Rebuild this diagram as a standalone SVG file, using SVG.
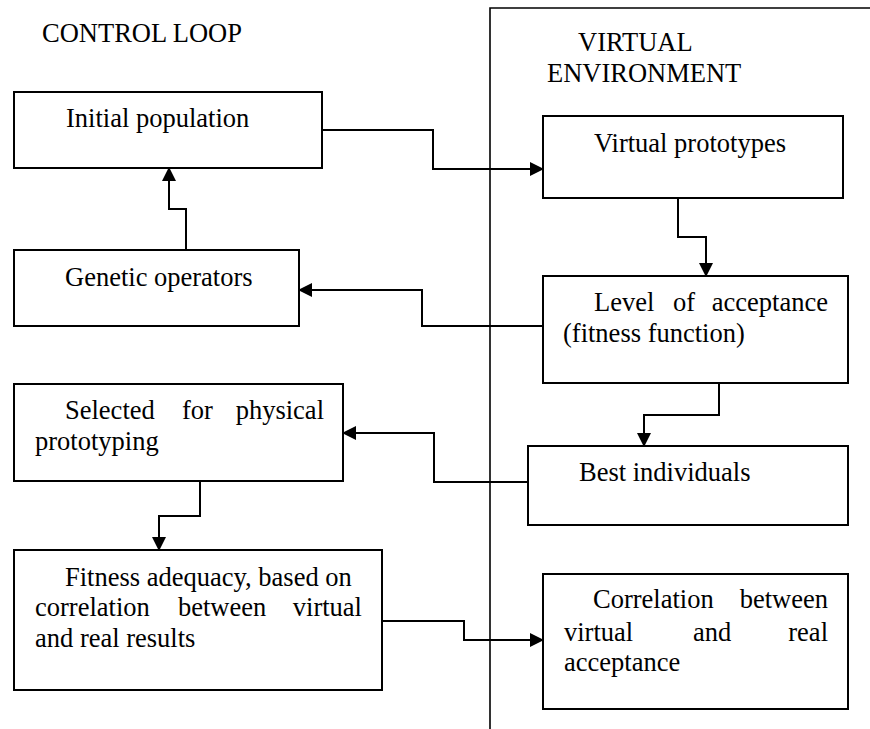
<svg xmlns="http://www.w3.org/2000/svg" width="870" height="729" viewBox="0 0 870 729" font-family="'Liberation Serif', 'Times New Roman', serif">
<style>
  .box { fill: #fff; stroke: #000; stroke-width: 2; }
  .conn { fill: none; stroke: #000; stroke-width: 2; }
  .div { fill: none; stroke: #000; stroke-width: 1.6; }
</style>
<defs>
  <marker id="arr" markerUnits="userSpaceOnUse" markerWidth="14" markerHeight="14" viewBox="0 0 14 14" refX="13" refY="7" orient="auto">
    <path d="M0,0 L14,7 L0,14 Z" fill="#000"/>
  </marker>
</defs>
<rect width="870" height="729" fill="#fff"/>

<g id="divider">
  <path class="div" d="M490,729 V8 H870"/>
</g>

<g id="labels">
  <text style="font-family: 'Liberation Serif', serif; font-size: 26.5px" x="42" y="42">CONTROL LOOP</text>
  <text style="font-family: 'Liberation Serif', serif; font-size: 26.5px" x="578" y="51">VIRTUAL</text>
  <text style="font-family: 'Liberation Serif', serif; font-size: 26.5px" x="547" y="82">ENVIRONMENT</text>
</g>

<g id="connectors">
  <path class="conn" d="M322,130 H433 V169 H543" marker-end="url(#arr)"/>
  <path class="conn" d="M678,198 V237 H706 V276" marker-end="url(#arr)"/>
  <path class="conn" d="M543,326 H422 V290 H299" marker-end="url(#arr)"/>
  <path class="conn" d="M186,250 V209 H169 V168" marker-end="url(#arr)"/>
  <path class="conn" d="M719,383 V415 H644 V446" marker-end="url(#arr)"/>
  <path class="conn" d="M528,482 H434 V433 H343" marker-end="url(#arr)"/>
  <path class="conn" d="M200,481 V516 H159 V550" marker-end="url(#arr)"/>
  <path class="conn" d="M382,621 H464 V640 H543" marker-end="url(#arr)"/>
</g>

<g id="initial-population">
  <rect class="box" x="14" y="92" width="308" height="76"/>
  <text style="font-family: 'Liberation Serif', serif; font-size: 26.5px" x="66" y="127">Initial population</text>
</g>

<g id="virtual-prototypes">
  <rect class="box" x="543" y="116" width="300" height="82"/>
  <text style="font-family: 'Liberation Serif', serif; font-size: 26.5px" x="594" y="152">Virtual prototypes</text>
</g>

<g id="genetic-operators">
  <rect class="box" x="14" y="250" width="285" height="76"/>
  <text style="font-family: 'Liberation Serif', serif; font-size: 26.5px" x="65" y="286">Genetic operators</text>
</g>

<g id="level-of-acceptance">
  <rect class="box" x="543" y="276" width="305" height="107"/>
  <text style="font-family: 'Liberation Serif', serif; font-size: 26.5px" x="594" y="311">Level</text>
  <text style="font-family: 'Liberation Serif', serif; font-size: 26.5px" x="673" y="311">of</text>
  <text style="font-family: 'Liberation Serif', serif; font-size: 26.5px" text-anchor="end" x="828" y="311">acceptance</text>
  <text style="font-family: 'Liberation Serif', serif; font-size: 26.5px" x="563" y="342">(fitness function)</text>
</g>

<g id="selected">
  <rect class="box" x="14" y="384" width="329" height="97"/>
  <text style="font-family: 'Liberation Serif', serif; font-size: 26.5px" x="65" y="419">Selected</text>
  <text style="font-family: 'Liberation Serif', serif; font-size: 26.5px" x="182" y="419">for</text>
  <text style="font-family: 'Liberation Serif', serif; font-size: 26.5px" text-anchor="end" x="324" y="419">physical</text>
  <text style="font-family: 'Liberation Serif', serif; font-size: 26.5px" x="35" y="450">prototyping</text>
</g>

<g id="best-individuals">
  <rect class="box" x="528" y="446" width="320" height="79"/>
  <text style="font-family: 'Liberation Serif', serif; font-size: 26.5px" x="579" y="481">Best individuals</text>
</g>

<g id="fitness-adequacy">
  <rect class="box" x="14" y="550" width="368" height="140"/>
  <text style="font-family: 'Liberation Serif', serif; font-size: 26.5px" x="65" y="586">Fitness adequacy, based on</text>
  <text style="font-family: 'Liberation Serif', serif; font-size: 26.5px" x="35" y="616">correlation</text>
  <text style="font-family: 'Liberation Serif', serif; font-size: 26.5px" x="178" y="616">between</text>
  <text style="font-family: 'Liberation Serif', serif; font-size: 26.5px" text-anchor="end" x="362" y="616">virtual</text>
  <text style="font-family: 'Liberation Serif', serif; font-size: 26.5px" x="35" y="647">and real results</text>
</g>

<g id="correlation">
  <rect class="box" x="543" y="574" width="305" height="135"/>
  <text style="font-family: 'Liberation Serif', serif; font-size: 26.5px" x="593" y="608">Correlation</text>
  <text style="font-family: 'Liberation Serif', serif; font-size: 26.5px" text-anchor="end" x="828" y="608">between</text>
  <text style="font-family: 'Liberation Serif', serif; font-size: 26.5px" x="564" y="641">virtual</text>
  <text style="font-family: 'Liberation Serif', serif; font-size: 26.5px" x="693" y="641">and</text>
  <text style="font-family: 'Liberation Serif', serif; font-size: 26.5px" text-anchor="end" x="828" y="641">real</text>
  <text style="font-family: 'Liberation Serif', serif; font-size: 26.5px" x="564" y="671">acceptance</text>
</g>
</svg>
